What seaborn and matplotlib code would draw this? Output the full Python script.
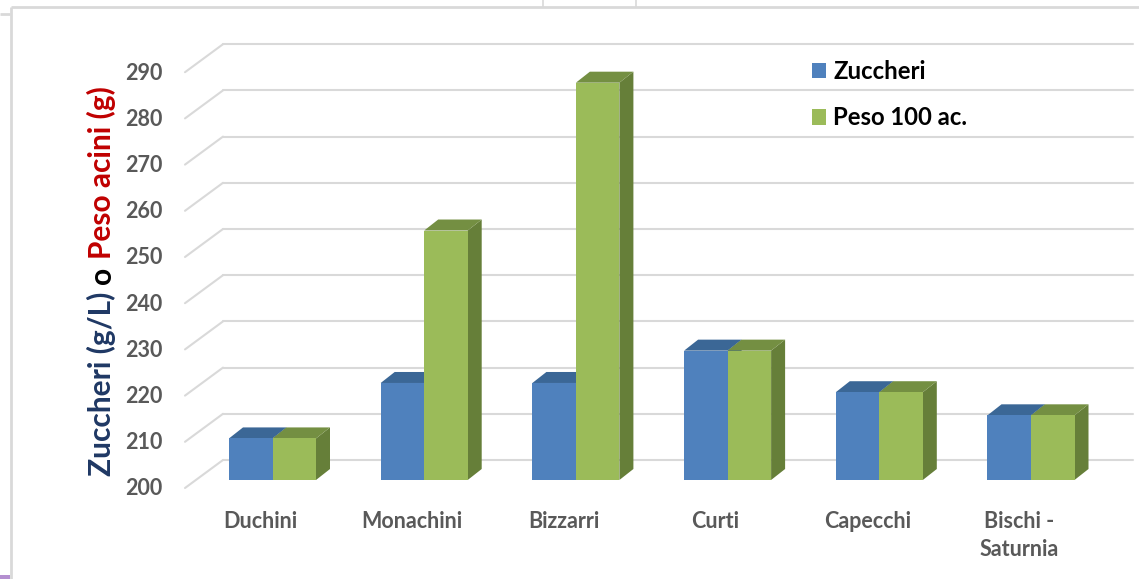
import matplotlib
matplotlib.use("Agg")
import matplotlib.pyplot as plt
import seaborn as sns
import pandas as pd
from matplotlib.lines import Line2D
from matplotlib.patches import Polygon, Rectangle
from matplotlib.transforms import Affine2D
from matplotlib.font_manager import FontProperties

categories = ["Duchini", "Monachini", "Bizzarri", "Curti", "Capecchi", "Bischi -\nSaturnia"]
zuccheri = [209, 221, 221, 228, 219, 214]
peso = [209, 254, 286, 228, 219, 214]
series_names = ["Zuccheri", "Peso 100 ac."]
y_ticks = [200, 210, 220, 230, 240, 250, 260, 270, 280, 290]

W, H = 1139, 579
FONT = "Lato"
sns.set_theme(style="white")
plt.rcParams["font.family"] = [FONT, "DejaVu Sans"]

fig = plt.figure(figsize=(W / 100, H / 100), dpi=100)
fig.patch.set_facecolor("white")

# Axes placed so 200 sits at the bar floor and categories are spaced as in the reference
ax_l, ax_r, ax_t, ax_b = 185, 1133, 44, 480
ax = fig.add_axes([ax_l / W, 1 - ax_b / H, (ax_r - ax_l) / W, (ax_b - ax_t) / H])
ax.patch.set_alpha(0)

px_per_cat = 151.7
px_per_unit = 4.62
first_center = 272.5

df = pd.DataFrame({
    "cat": categories * 2,
    "val": zuccheri + peso,
    "serie": [series_names[0]] * len(categories) + [series_names[1]] * len(categories),
})
front_cols = ["#4F81BD", "#9BBB59"]
top_cols = ["#3B6796", "#748F42"]
side_cols = ["#3B6796", "#667F39"]

sns.barplot(data=df, x="cat", y="val", hue="serie", palette=front_cols, width=87 / px_per_cat,
            gap=0, saturation=1, ax=ax, zorder=5, legend=True, errorbar=None, linewidth=0)

ax.set_xlim((ax_l - first_center) / px_per_cat, (ax_r - first_center) / px_per_cat)
ax.set_ylim(200, 200 + (ax_b - ax_t) / px_per_unit)
ax.set_xlabel("")
ax.set_ylabel("")
ax.grid(False)
for s in ax.spines.values():
    s.set_visible(False)

# Wall and gridlines: same values, shifted to the back wall / front edge in pixels
grid_col = "#D9D9D9"
back = ax.transData + Affine2D().translate(0, 20)
for v in y_ticks:
    xmin, xmax = ax.get_xlim()
    dx_wall = 38 / px_per_cat
    ax.plot([xmin + dx_wall, xmax], [v, v], color=grid_col, lw=1.5, transform=back,
            clip_on=False, zorder=1)
    ax.plot([xmin, xmin + dx_wall], [v - 28 / px_per_unit, v], color=grid_col, lw=1.5,
            transform=back, clip_on=False, zorder=1)

# 3D depth faces derived from the bars
depth_x = 14 / px_per_cat
depth_y = 11 / px_per_unit
for i, cont in enumerate(ax.containers):
    for bar in cont:
        x0 = bar.get_x()
        x1 = x0 + bar.get_width()
        top = bar.get_height()
        ax.add_patch(Polygon([(x1, 200), (x1 + depth_x, 200 + depth_y),
                              (x1 + depth_x, top + depth_y), (x1, top)],
                             closed=True, fc=side_cols[i], ec="none", zorder=3 + i * 0.1, clip_on=False))
        ax.add_patch(Polygon([(x0, top), (x0 + depth_x, top + depth_y),
                              (x1 + depth_x, top + depth_y), (x1, top)],
                             closed=True, fc=top_cols[i], ec="none", zorder=3 + i * 0.1, clip_on=False))

# Ticks
ax.set_yticks(y_ticks)
ax.set_xticks(range(len(categories)))
ax.set_xticklabels(categories, linespacing=1.38)
ax.tick_params(axis="y", length=0, pad=16, labelsize=15.5, labelcolor="#595959")
ax.tick_params(axis="x", length=0, pad=22.5, labelsize=15.5, labelcolor="#595959")
for lab in ax.get_yticklabels():
    lab.set_fontweight("bold")
    lab.set_transform(lab.get_transform() + Affine2D().translate(0, -7))
for lab in ax.get_xticklabels():
    lab.set_fontweight("bold")
    lab.set_transform(lab.get_transform() + Affine2D().translate(-12, 0))

# Legend
handles, labels = ax.get_legend_handles_labels()
ax.get_legend().remove()
fig.legend(handles, labels, loc="upper left", bbox_to_anchor=(802 / W, 1 - 50 / H),
           frameon=False, handlelength=0.6, handleheight=0.6, handletextpad=0.3,
           labelspacing=1.0, borderpad=0.4, borderaxespad=0,
           prop=FontProperties(family=FONT, weight="bold", size=17.2), labelcolor="black")

# Multi-colour axis title, chained from the bottom upward
fig.canvas.draw()
rend = fig.canvas.get_renderer()
y_cur = 476
for txt, col in [("Zuccheri (g/L)", "#1F3864"), ("o", "#000000"), ("Peso acini (g)", "#C00000")]:
    t = fig.text(116 / W, 1 - (y_cur - (8 if txt == "o" else 0)) / H, txt, rotation=90, color=col,
                 fontsize=21.5, fontweight="bold", ha="right", va="bottom", rotation_mode="default")
    bb = t.get_window_extent(rend)
    y_cur -= bb.height if txt != "o" else 33

# Surrounding screenshot frame
def seg(x0, y0, x1, y1, color="#D9D9D9", lw=2.0):
    fig.add_artist(Line2D([x0 / W, x1 / W], [1 - y0 / H, 1 - y1 / H], color=color, lw=lw,
                          transform=fig.transFigure, solid_capstyle="butt"))

seg(11, 7, W, 7)
seg(11, 7, 11, H)
seg(0, 14, 10, 14)
seg(543, 0, 543, 7, lw=1.2)
seg(636, 0, 636, 7, lw=1.2)
fig.add_artist(Rectangle((0, 0), 10 / W, 4 / H, transform=fig.transFigure, fc="#B48FD0", ec="none"))

fig.savefig("out.png", dpi=100, facecolor="white")
